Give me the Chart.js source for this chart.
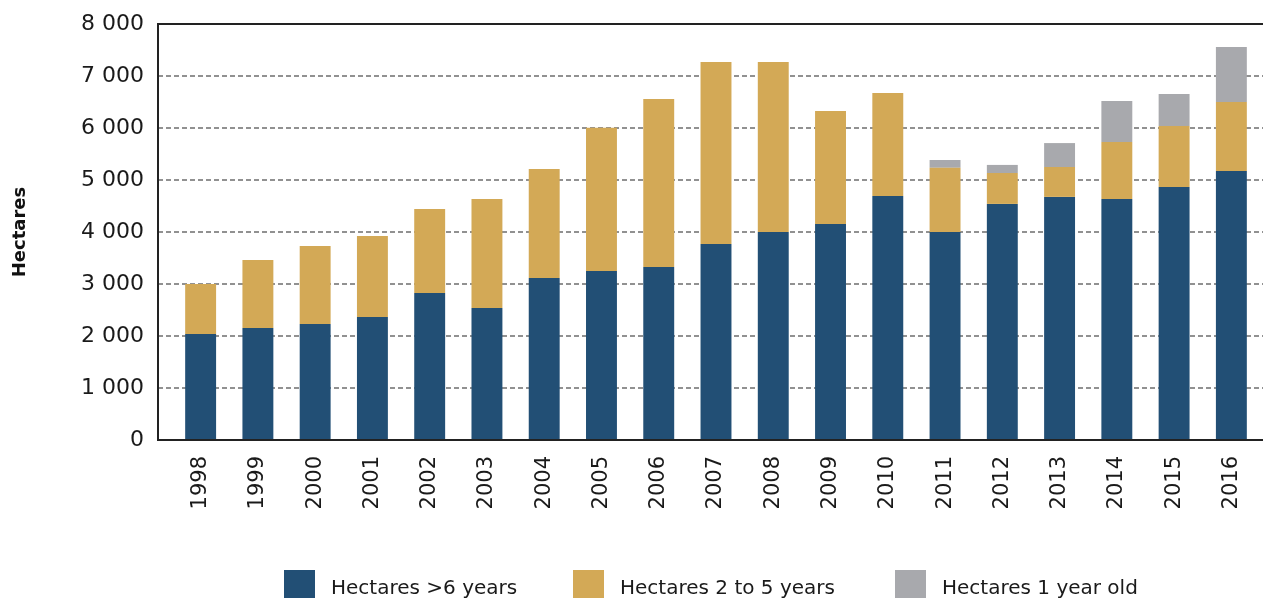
<!DOCTYPE html>
<html>
<head>
<meta charset="utf-8">
<script src="https://cdn.jsdelivr.net/npm/chart.js@4.4.1/dist/chart.umd.min.js"></script>
<style>
  html, body { margin:0; padding:0; background:#fff; overflow:hidden; }
  #wrap { position:relative; width:1263px; height:598px; }
  #legend { position:absolute; left:0; top:570px; width:1263px; height:40px;
    font-family:"DejaVu Sans", sans-serif; font-size:20px; color:#1a1a1a; white-space:nowrap; }
  .item { position:absolute; top:0; display:flex; align-items:flex-start; }
  .box { width:31px; height:31px; margin-right:16px; }
  .item span { line-height:31px; margin-top:2px; }
</style>
</head>
<body>
<div id="wrap">
  <canvas id="chart" width="1263" height="598"></canvas>
  <div id="legend"></div>
</div>
<script>
const years = ["1998","1999","2000","2001","2002","2003","2004","2005","2006","2007","2008","2009","2010","2011","2012","2013","2014","2015","2016"];
const over6 = [2040,2155,2230,2365,2825,2540,3115,3250,3325,3770,4000,4155,4690,4000,4540,4675,4635,4865,5175];
const twoTo5 = [960,1305,1500,1560,1615,2095,2095,2755,3235,3500,3270,2170,1985,1235,595,575,1095,1175,1325];
const oneYear = [0,0,0,0,0,0,0,0,0,0,0,0,0,150,155,460,790,615,1060];
const seriesNames = ["Hectares >6 years","Hectares 2 to 5 years","Hectares 1 year old"];
const colors = ["#224f75","#d3a956","#a8a9ad"];
const yMax = 8000, yStep = 1000;

const fmt = v => String(v).replace(/\B(?=(\d{3})+(?!\d))/g, " ");

// dashed grid behind bars, axis lines on top
const axisX = 158;
const gridPlugin = {
  id: "gridLines",
  beforeDatasetsDraw(chart) {
    const {ctx, scales:{y}} = chart;
    ctx.save();
    y.ticks.forEach(t => {
      if (t.value === 0) return;
      const py = Math.round(y.getPixelForValue(t.value));
      ctx.beginPath();
      if (t.value === yMax) {
        ctx.setLineDash([]); ctx.strokeStyle = "#222"; ctx.lineWidth = 2;
      } else {
        ctx.setLineDash([5,3]); ctx.strokeStyle = "#6e6e6e"; ctx.lineWidth = 1.3;
      }
      ctx.moveTo(axisX, py); ctx.lineTo(chart.width, py); ctx.stroke();
    });
    ctx.restore();
  },
  afterDatasetsDraw(chart) {
    const {ctx, scales:{y}} = chart;
    const top = Math.round(y.getPixelForValue(yMax)), bot = Math.round(y.getPixelForValue(0));
    ctx.save();
    ctx.setLineDash([]); ctx.strokeStyle = "#222"; ctx.lineWidth = 2;
    ctx.beginPath();
    ctx.moveTo(axisX, top - 1); ctx.lineTo(axisX, bot);
    ctx.lineTo(chart.width, bot);
    ctx.stroke();
    ctx.restore();
  }
};

const data = {
  labels: years,
  datasets: [over6, twoTo5, oneYear].map((d, i) => ({
    label: seriesNames[i], data: d, backgroundColor: colors[i],
    borderWidth: 0, categoryPercentage: 1, barPercentage: 0.54
  }))
};

new Chart(document.getElementById("chart"), {
  type: "bar",
  data,
  options: {
    responsive: false,
    animation: false,
    layout: { padding: { top: 24, right: 3, left: 0, bottom: 0 } },
    plugins: { legend: { display: false }, tooltip: { enabled: false } },
    scales: {
      x: {
        stacked: true,
        grid: { display: false, drawTicks: false },
        border: { display: false },
        ticks: { minRotation: 90, maxRotation: 90, padding: 16, color: "#1a1a1a",
          font: { family: "DejaVu Sans", size: 21 } },
        afterFit: s => { s.height = 158; s.paddingLeft = 0; s.paddingRight = 0; }
      },
      y: {
        stacked: true, min: 0, max: yMax,
        grid: { display: false, drawTicks: false },
        border: { display: false },
        ticks: { stepSize: yStep, padding: 28, color: "#1a1a1a",
          font: { family: "DejaVu Sans", size: 22 }, callback: v => fmt(v) },
        title: { display: true, text: "Hectares", color: "#111",
          font: { family: "DejaVu Sans", size: 18, weight: "bold" }, padding: { top: 10 } },
        afterFit: s => { s.width = 172; s.paddingTop = 0; s.paddingBottom = 0; }
      }
    }
  },
  plugins: [gridPlugin]
});

const legendLeft = [284, 573, 895];
const legend = document.getElementById("legend");
seriesNames.forEach((n, i) => {
  const el = document.createElement("div");
  el.className = "item";
  el.style.left = legendLeft[i] + "px";
  el.innerHTML = `<div class="box" style="background:${colors[i]}"></div><span>${n}</span>`;
  legend.appendChild(el);
});
</script>
</body>
</html>
